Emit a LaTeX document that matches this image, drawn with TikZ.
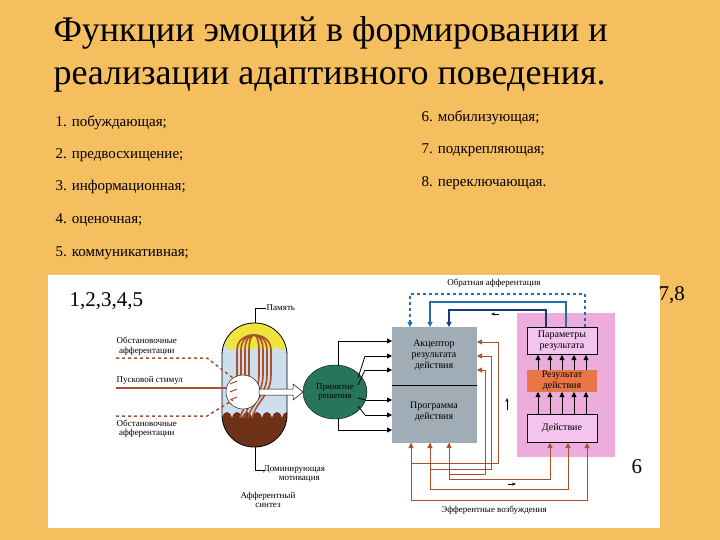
\documentclass[tikz,border=0pt]{standalone}
\usepackage{fontspec}
\setmainfont{Liberation Serif}
\usetikzlibrary{arrows.meta,shapes.geometric}
\definecolor{bg}{RGB}{245,190,95}
\definecolor{grayb}{RGB}{160,172,182}
\definecolor{pinkb}{RGB}{236,172,222}
\definecolor{pinki}{RGB}{242,196,238}
\definecolor{resb}{RGB}{232,118,70}
\definecolor{greenb}{RGB}{40,118,90}
\definecolor{brownb}{RGB}{110,50,25}
\definecolor{brownl}{RGB}{170,80,45}
\definecolor{yel}{RGB}{238,228,60}
\definecolor{lblue}{RGB}{205,222,236}
\definecolor{blueb}{RGB}{40,110,170}
\definecolor{dblue}{RGB}{20,60,120}
\begin{document}
\begin{tikzpicture}[x=1pt,y=-1pt,
  item/.style={anchor=base west,font=\fontsize{15}{17}\selectfont},
  lab/.style={font=\fontsize{9}{9.5}\selectfont,align=center,inner sep=0.5pt},
  blab/.style={lab,font=\fontsize{10}{11}\selectfont},
  ar/.style={-{Triangle[length=5pt,width=5pt]}},
  blk/.style={ar,draw=black,line width=0.8pt},
  eff/.style={ar,draw=brownl,line width=1pt},
  col/.style={ar,draw=brownl,line width=0.6pt},
  box/.style={draw=black,line width=1pt,fill=pinki,blab}]
\useasboundingbox (0,0) rectangle (720,540);
\fill[bg] (0,0) rectangle (720,540);
\node[anchor=base west,font=\fontsize{36}{40}\selectfont] (t1) at (50,42) {Функции эмоций в формировании и};
\node[anchor=base west,font=\fontsize{36}{40}\selectfont] (t2) at (50,85) {реализации адаптивного поведения.};
\node[item] (i1) at (52,127) {1. побуждающая;};
\node[item] (i2) at (52,159) {2. предвосхищение;};
\node[item] (i3) at (52,191) {3. информационная;};
\node[item] (i4) at (52,224) {4. оценочная;};
\node[item] (i5) at (52,256) {5. коммуникативная;};
\node[item] (i6) at (418,122) {6. мобилизующая;};
\node[item] (i7) at (418,154) {7. подкрепляющая;};
\node[item] (i8) at (418,187) {8. переключающая.};
\fill[white] (48,275) rectangle (660,528);
\node[anchor=base west,font=\fontsize{21}{22}\selectfont] (n1) at (66,306) {1,2,3,4,5};
\node[anchor=base west,font=\fontsize{21}{22}\selectfont] (n78) at (655,300) {7,8};
\node[anchor=base west,font=\fontsize{21}{22}\selectfont] (n6) at (628,473) {6};
% capsule
\begin{scope}
\clip[rounded corners=32pt] (222,323) rectangle (287,447);
\fill[lblue] (222,323) rectangle (287,447);
\fill[yel] (222,323) rectangle (287,345);
\foreach \x in {226,236,246,256,266,276}{\fill[yel] (\x,345) .. controls (\x+2,352) and (\x+8,352) .. (\x+10,345) -- cycle;}
\fill[brownb] (222,418) rectangle (287,447);
\foreach \x in {222,232,242,252,262,272,282}{\fill[brownb] (\x,418) .. controls (\x+2,410) and (\x+8,410) .. (\x+10,418) -- cycle;}
\foreach \r in {5,9,13,17}{
 \draw[brownl,line width=1.6pt] (254-\r,385) -- (254-\r,350) .. controls (254-\r,330) and (254+\r,330) .. (254+\r,350) -- (254+\r,375) .. controls (254+\r,395) and (240+\r,400) .. (235+\r,418);}
\end{scope}
\draw[line width=0.8pt,rounded corners=32pt] (222,323) rectangle (287,447);
\node[circle,draw=black,fill=white,minimum size=34pt,inner sep=0pt] (c) at (243,392) {};
\foreach \y in {384,392,400}{\draw[brownl,line width=1pt] (230,\y) -- (237,\y-3);}
% left labels and lines
\node[lab,anchor=south west] (ob1) at (116,356) {Обстановочные\\афферентации};
\draw[brownl,line width=1.5pt,dashed] (116,358) -- (207,358) -- (233,378);
\node[lab,anchor=south west] (ps) at (116,385) {Пусковой стимул};
\draw[brownl,line width=1.8pt] (116,388) -- (226,388);
\draw[brownl,line width=1.5pt,dashed] (116,416) -- (207,416) -- (233,400);
\node[lab,anchor=north west] (ob2) at (116,419) {Обстановочные\\афферентации};
% memory / motivation labels
\coordinate (pm) at (255,323);
\draw[line width=0.5pt] (pm) -- (255,308) -- (266,308);
\node[lab,anchor=west] (pam) at (266,308) {Память};
\draw[line width=0.5pt] (255,447) -- (255,470) -- (265,470);
\node[lab,anchor=west] (dm) at (263,474) {Доминирующая\\\hspace*{10pt}мотивация};
\node[lab] (as) at (268,500) {Афферентный\\синтез};
% decision
\node[ellipse,draw=black,fill=greenb,minimum width=64pt,minimum height=54pt,inner sep=0pt,lab] (dec) at (335,392) {Принятие\\решения};
\draw[draw=black,fill=white,line width=0.5pt] (259,389) -- (293,389) -- (293,384) -- (303,392) -- (293,400) -- (293,395) -- (259,395) -- cycle;
% gray box
\node[draw=none,fill=grayb,minimum width=85pt,minimum height=116pt,anchor=north west,inner sep=0pt] (gb) at (392,327) {};
\draw[line width=0.8pt] (392,385) -- (477,385);
\node[blab] (acc) at (434,355) {Акцептор\\результата\\действия};
\node[blab] (prog) at (434,412) {Программа\\действия};
% frame and arrows from decision
\draw[line width=0.8pt] (338,366) -- (338,341);
\draw[line width=0.8pt] (338,418) -- (338,430);
\draw[blk] (338,341) -- (392,341);
\draw[blk] (338,430) -- (392,430);
\foreach \y/\sy in {356/378,370/385,400/398,415/406}{\draw[line width=0.8pt] (358,\sy) -- (365,\y); \draw[blk] (365,\y) -- (392,\y);}
% pink box
\node[fill=pinkb,minimum width=98pt,minimum height=144pt,anchor=north west,inner sep=0pt] (pb) at (517,313) {};
\node[box,minimum width=70pt,minimum height=27pt] (par) at (562,341) {Параметры\\результата};
\node[fill=resb,minimum width=70pt,minimum height=22pt,blab] (res) at (562,381) {Результат\\действия};
\node[box,minimum width=70pt,minimum height=28pt] (act) at (562,428) {Действие};
\foreach \x in {538,550,562,574,586}{
 \draw[blk] (\x,370) -- (\x,355);
 \draw[blk] (\x,414) -- (\x,392);}
% feedback
\node[lab] (fb) at (494,283) {Обратная афферентация};
\draw[ar,draw=blueb,line width=1.2pt,dashed] (585,327) -- (585,294) -- (410,294) -- (410,327);
\draw[ar,draw=blueb,line width=2pt] (566,327) -- (566,302) -- (430,302) -- (430,327);
\draw[ar,draw=dblue,line width=1.5pt] (546,327) -- (546,310) -- (449,310) -- (449,327);
\draw[-{Stealth[length=4pt]},line width=0.6pt] (499,314) -- (491,314);
\draw[-{Stealth[length=4pt]},line width=0.6pt] (507,410) -- (507,398);
\draw[-{Stealth[length=4pt]},line width=0.6pt] (508,484) -- (516,484);
% efferent
\node[lab] (ef) at (494,510) {Эфферентные возбуждения};
\draw[eff] (411,443) -- (411,500) -- (587,500) -- (587,443);
\draw[eff] (430,443) -- (430,489) -- (568,489) -- (568,443);
\draw[eff] (449,443) -- (449,479) -- (550,479) -- (550,443);
\draw[eff] (411,450) -- (411,443);
\draw[eff] (430,450) -- (430,443);
\draw[eff] (449,450) -- (449,443);
\draw[col] (411,463) -- (498,463) -- (498,342) -- (477,342);
\draw[col] (430,469) -- (491,469) -- (491,356) -- (477,356);
\draw[col] (449,474) -- (485,474) -- (485,370) -- (477,370);
\end{tikzpicture}
\end{document}
